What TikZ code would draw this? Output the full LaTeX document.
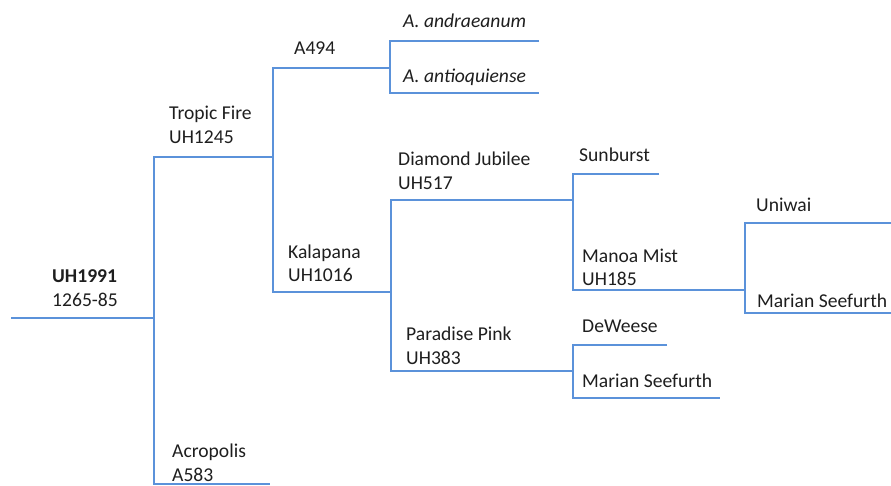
\documentclass[tikz,border=0pt]{standalone}
\usepackage{fontspec}
\setmainfont{Carlito}
\usepackage{xcolor}
\usepackage{tikz}
\definecolor{treeblue}{RGB}{91,146,218}
\definecolor{labelgray}{RGB}{30,30,30}

\begin{document}
\begin{tikzpicture}[x = 1pt, y = -1pt]
        \tikzstyle{every node} = [anchor = base west, inner sep = 0pt, align = left, text = labelgray, font = \fontsize{19.6}{24}\selectfont]
        \tikzstyle{branch} = [draw = treeblue, line width = 1.2pt]
        \useasboundingbox (0, 0) rectangle (891, 486);

        % joints and ends of the tree
        \coordinate(root) at (11, 318);
        \coordinate(UH1991 joint) at (154, 318);
        \coordinate(Tropic Fire joint) at (273, 157);
        \coordinate(Acropolis end) at (270, 484);
        \coordinate(A494 joint) at (390, 68);
        \coordinate(Kalapana joint) at (391, 292);
        \coordinate(andraeanum end) at (539, 41);
        \coordinate(antioquiense end) at (539, 93);
        \coordinate(Diamond Jubilee joint) at (573, 200);
        \coordinate(Paradise Pink joint) at (573, 371);
        \coordinate(Sunburst end) at (659, 174);
        \coordinate(Manoa Mist joint) at (745, 290);
        \coordinate(Uniwai end) at (891, 223);
        \coordinate(Marian Seefurth end1) at (891, 313);
        \coordinate(DeWeese end) at (667, 345);
        \coordinate(Marian Seefurth end2) at (720, 398);

        \draw [branch] (root) -- (UH1991 joint);
        \draw [branch] (Tropic Fire joint) -| (UH1991 joint) |- (Acropolis end);
        \draw [branch] (A494 joint) -| (Tropic Fire joint) |- (Kalapana joint);
        \draw [branch] (andraeanum end) -| (A494 joint) |- (antioquiense end);
        \draw [branch] (Diamond Jubilee joint) -| (Kalapana joint) |- (Paradise Pink joint);
        \draw [branch] (Sunburst end) -| (Diamond Jubilee joint) |- (Manoa Mist joint);
        \draw [branch] (Uniwai end) -| (Manoa Mist joint) |- (Marian Seefurth end1);
        \draw [branch] (DeWeese end) -| (Paradise Pink joint) |- (Marian Seefurth end2);

        % labels (two-line nodes sit on the baseline of their last line)
        \node(UH1991) at (52, 306) {\textbf{UH1991}\\1265-85};
        \node(Tropic Fire) at (169, 144) {Tropic Fire\\UH1245};
        \node(Acropolis) at (172, 481) {Acropolis\\A583};
        \node(A494) at (294, 55) {A494};
        \node(Kalapana) at (288, 282) {Kalapana\\UH1016};
        \node(andraeanum) at (403, 28) {\textit{A. andraeanum}};
        \node(antioquiense) at (403, 83) {\textit{A. antioquiense}};
        \node(Diamond Jubilee) at (398, 190) {Diamond Jubilee\\UH517};
        \node(Paradise Pink) at (406, 364) {Paradise Pink\\UH383};
        \node(Sunburst) at (579, 162) {Sunburst};
        \node(Manoa Mist) at (582, 286) {Manoa Mist\\UH185};
        \node(DeWeese) at (582, 332) {DeWeese};
        \node(Marian Seefurth2) at (582, 387) {Marian Seefurth};
        \node(Uniwai) at (756, 212) {Uniwai};
        \node(Marian Seefurth1) at (757, 307) {Marian Seefurth};

    \end{tikzpicture}
\end{document}
